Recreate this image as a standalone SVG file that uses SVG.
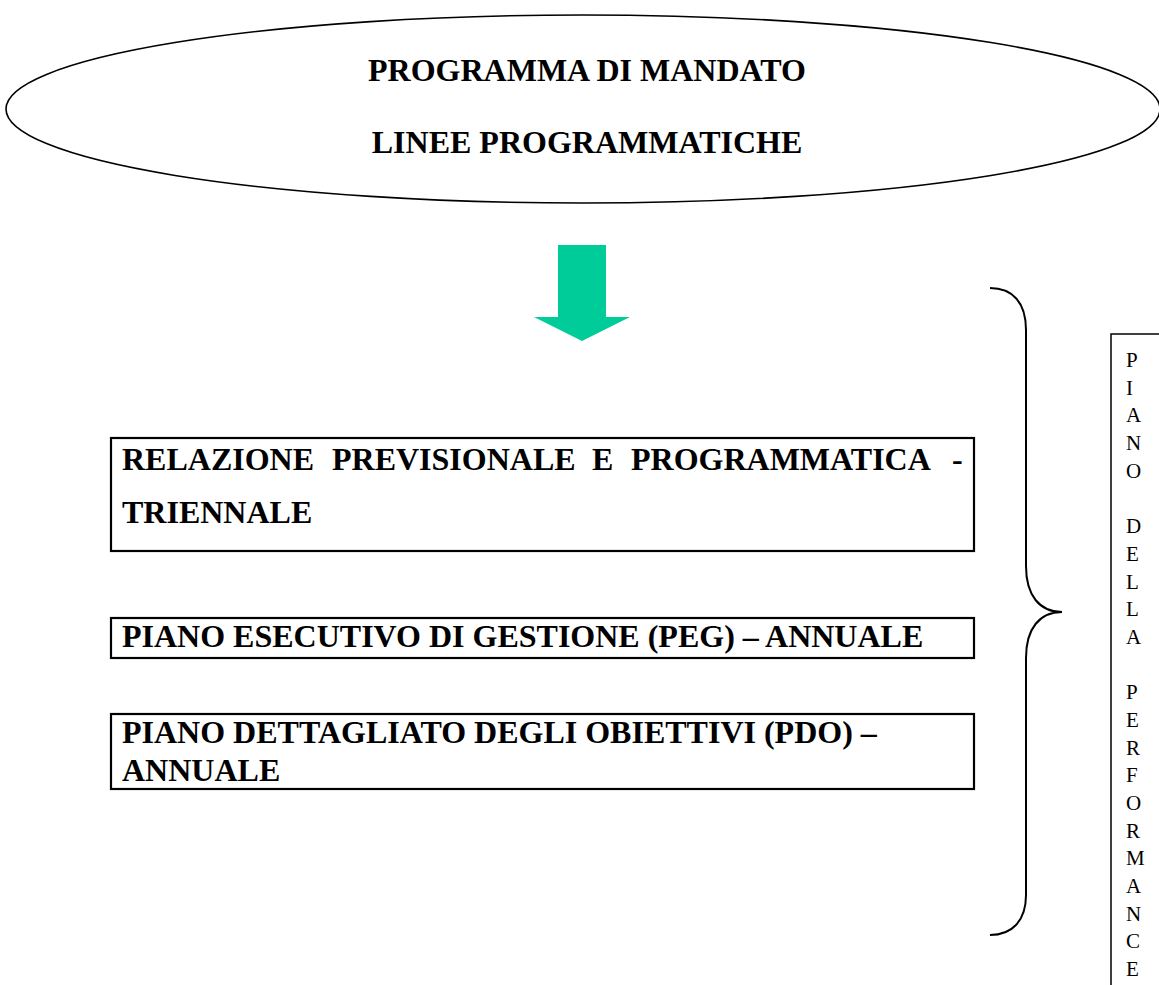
<svg xmlns="http://www.w3.org/2000/svg" width="1159" height="985" viewBox="0 0 1159 985">
<style>
.t{font-family:"Liberation Serif","Times New Roman",serif;font-weight:bold;font-size:32px;fill:#000}
.v{font-family:"Liberation Serif","Times New Roman",serif;font-size:21px;fill:#000}
.box{fill:#fff;stroke:#000;stroke-width:2.2}
</style>
<rect width="1159" height="985" fill="#fff"/>
<g id="mandato">
<ellipse cx="583" cy="109" rx="577" ry="94" fill="#fff" stroke="#000" stroke-width="1.6"/>
<text class="t" x="587" y="81" text-anchor="middle">PROGRAMMA DI MANDATO</text>
<text class="t" x="587" y="153" text-anchor="middle">LINEE PROGRAMMATICHE</text>
</g>
<g id="connectors">
<polygon points="558,245 606,245 606,317 630,317 582,341 534,317 558,317" fill="#00CC99"/>
<path d="M990,288 C1012,288 1026,302 1026,330 L1026,566 C1026,596 1040,612 1062,612 C1040,612 1026,628 1026,658 L1026,895 C1026,921 1012,935 990,935" fill="none" stroke="#000" stroke-width="2"/>
</g>
<g id="rpp">
<rect class="box" x="111" y="438" width="863" height="113"/>
<text class="t" y="470"><tspan x="122">RELAZIONE</tspan><tspan x="332">PREVISIONALE</tspan><tspan x="592">E</tspan><tspan x="631">PROGRAMMATICA</tspan><tspan x="952">-</tspan></text>
<text class="t" x="122" y="523">TRIENNALE</text>
</g>
<g id="peg">
<rect class="box" x="111" y="618" width="863" height="40"/>
<text class="t" x="122" y="647">PIANO ESECUTIVO DI GESTIONE (PEG) – ANNUALE</text>
</g>
<g id="pdo">
<rect class="box" x="111" y="714" width="863" height="75"/>
<text class="t" x="122" y="743">PIANO DETTAGLIATO DEGLI OBIETTIVI (PDO) –</text>
<text class="t" x="122" y="781">ANNUALE</text>
</g>
<g id="performance">
<rect x="1111" y="334" width="70" height="670" fill="#fff" stroke="#000" stroke-width="1.5"/>
<text class="v">
<tspan x="1126" y="367">P</tspan>
<tspan x="1126" y="395">I</tspan>
<tspan x="1126" y="422">A</tspan>
<tspan x="1126" y="450">N</tspan>
<tspan x="1126" y="478">O</tspan>
<tspan x="1126" y="533">D</tspan>
<tspan x="1126" y="561">E</tspan>
<tspan x="1126" y="589">L</tspan>
<tspan x="1126" y="616">L</tspan>
<tspan x="1126" y="644">A</tspan>
<tspan x="1126" y="699">P</tspan>
<tspan x="1126" y="727">E</tspan>
<tspan x="1126" y="755">R</tspan>
<tspan x="1126" y="782">F</tspan>
<tspan x="1126" y="810">O</tspan>
<tspan x="1126" y="838">R</tspan>
<tspan x="1126" y="865">M</tspan>
<tspan x="1126" y="893">A</tspan>
<tspan x="1126" y="921">N</tspan>
<tspan x="1126" y="948">C</tspan>
<tspan x="1126" y="976">E</tspan>
</text>
</g>
</svg>
